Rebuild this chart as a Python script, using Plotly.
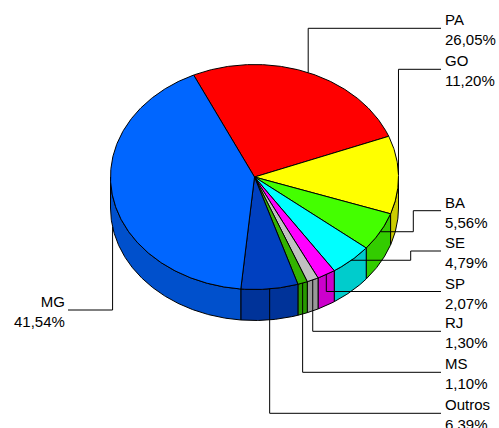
import numpy as np
import plotly.graph_objects as go

# ---- data ----
labels = ["PA", "GO", "BA", "SE", "SP", "RJ", "MS", "Outros", "MG"]
values = [26.05, 11.20, 5.56, 4.79, 2.07, 1.30, 1.10, 6.39, 41.54]
pct_text = ["26,05%", "11,20%", "5,56%", "4,79%", "2,07%", "1,30%", "1,10%", "6.39%", "41,54%"]

# ---- styles ----
top_colors = ["#FF0000", "#FFFF00", "#44FF00", "#00FFFF", "#FF00FF", "#C0C0C0", "#33B300", "#0040C0", "#0066FF"]
side_colors = ["#CC0000", "#CCCC00", "#33CC00", "#00CCCC", "#CC00CC", "#999999", "#299900", "#003399", "#0050CC"]

# ---- layout geometry (pixels) ----
W, H = 499, 428
CX, CY, RX, RY, DEPTH = 254.5, 177.0, 144.0, 112.5, 31.0
START = 115.0  # degrees, first slice starts here and goes clockwise
label_y = [28.3, 69.3, 210.7, 251.0, 291.5, 331.3, 372.3, 413.3, 310.0]
elbow_x = [None, None, 413.3, 410.7, None, None, None, None, None]
label_side = ["r"] * 8 + ["l"]
RIGHT_LINE_END = 441.0
RIGHT_TEXT_X = 442.5
LEFT_LINE_END = 68.0
LEFT_TEXT_X = 67.0
FONT = "Liberation Sans, Arial, sans-serif"


def pt(th_deg, dy=0.0):
    t = np.radians(th_deg)
    return CX + RX * np.cos(t), CY - RY * np.sin(t) + dy


vals = np.array(values, dtype=float)
frac = vals / vals.sum()
bounds = START - 360.0 * np.concatenate([[0.0], np.cumsum(frac)])

fig = go.Figure()

# side walls (visible lower half)
for i in range(len(values)):
    t_start, t_end = bounds[i], bounds[i + 1]
    for k in (-2, -1, 0, 1):
        lo = max(t_end, -180.0 + 360.0 * k)
        hi = min(t_start, 360.0 * k)
        if lo < hi:
            ths = np.linspace(hi, lo, max(3, int((hi - lo) * 2)))
            xs_t, ys_t = pt(ths)
            xs_b, ys_b = pt(ths[::-1], DEPTH)
            xs = np.concatenate([xs_t, xs_b, xs_t[:1]])
            ys = np.concatenate([ys_t, ys_b, ys_t[:1]])
            fig.add_trace(go.Scatter(x=xs, y=ys, mode="lines", fill="toself",
                                     fillcolor=side_colors[i],
                                     line=dict(color="black", width=1),
                                     hoverinfo="skip", showlegend=False))

# top faces
for i in range(len(values)):
    t_start, t_end = bounds[i], bounds[i + 1]
    ths = np.linspace(t_start, t_end, max(3, int((t_start - t_end) * 2)))
    xa, ya = pt(ths)
    xs = np.concatenate([[CX], xa, [CX]])
    ys = np.concatenate([[CY], ya, [CY]])
    fig.add_trace(go.Scatter(x=xs, y=ys, mode="lines", fill="toself",
                             fillcolor=top_colors[i],
                             line=dict(color="black", width=1),
                             hoverinfo="skip", showlegend=False))

# leader lines and labels
annotations = []
for i in range(len(values)):
    mid = (bounds[i] + bounds[i + 1]) / 2.0
    ly = label_y[i]
    if label_side[i] == "l":
        ax, ay = pt(mid, DEPTH)
        xs = [ax, ax, LEFT_LINE_END]
        ys = [ay, ly, ly]
        tx, anchor = LEFT_TEXT_X, "right"
    else:
        ax, ay = pt(mid)
        if elbow_x[i] is not None:
            ex = elbow_x[i]
            xs = [ax, ex, ex, RIGHT_LINE_END]
            ys = [ay, ay, ly, ly]
        else:
            xs = [ax, ax, RIGHT_LINE_END]
            ys = [ay, ly, ly]
        tx, anchor = RIGHT_TEXT_X, "left"
    fig.add_trace(go.Scatter(x=xs, y=ys, mode="lines",
                             line=dict(color="black", width=1),
                             hoverinfo="skip", showlegend=False))
    annotations.append(dict(x=tx, y=ly + 1.5, xref="x", yref="y",
                            text=f"{labels[i]}<br>{pct_text[i]}",
                            showarrow=False, xanchor=anchor, yanchor="middle",
                            align=anchor,
                            font=dict(family=FONT, size=15, color="black")))

fig.update_layout(
    width=W, height=H,
    margin=dict(l=0, r=0, t=0, b=0),
    paper_bgcolor="white", plot_bgcolor="white",
    xaxis=dict(range=[0, W], visible=False, fixedrange=True),
    yaxis=dict(range=[H, 0], visible=False, fixedrange=True),
    annotations=annotations,
)

fig.write_html("out.html", config={"displayModeBar": False},
               post_script="document.body.style.margin='0';document.body.style.overflow='hidden';")
